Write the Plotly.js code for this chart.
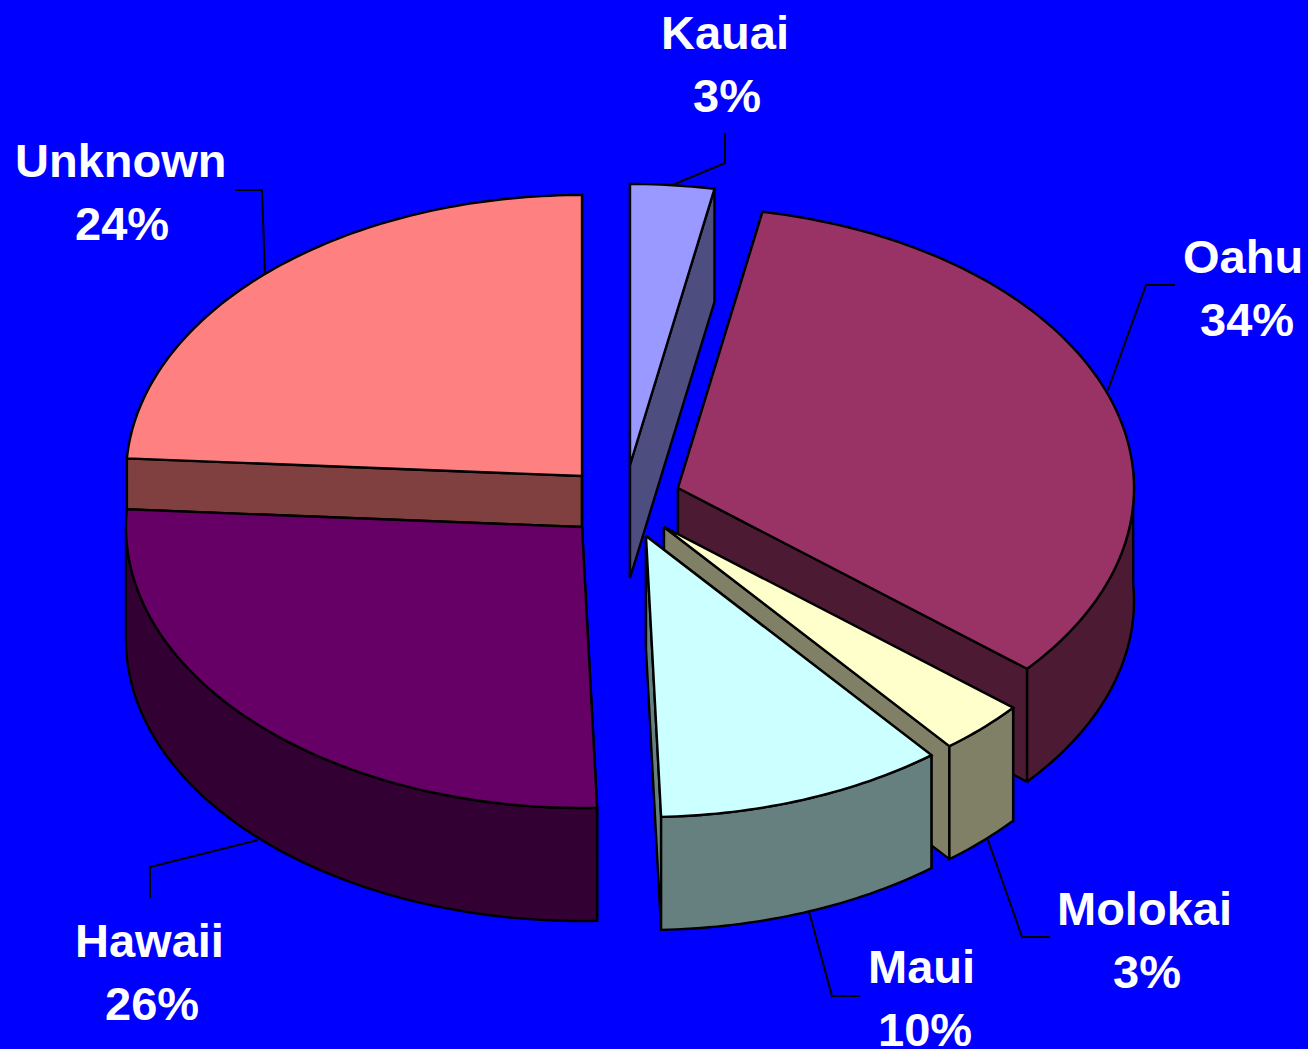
<!DOCTYPE html>
<html>
<head>
<meta charset="utf-8">
<script src="https://cdn.plot.ly/plotly-3.0.1.min.js"></script>
<style>html,body{margin:0;padding:0;background:#0000ff;overflow:hidden}#c{width:1308px;height:1049px}</style>
</head>
<body>
<div id="c"></div>
<script>
// ---- data ----
const categories = ["Kauai", "Oahu", "Molokai", "Maui", "Hawaii", "Unknown"];
const percents   = [3, 34, 3, 10, 26, 24];
// ---- styles ----
const topColors  = ["#9999ff", "#993366", "#ffffcc", "#ccffff", "#660066", "#ff8080"];
const wallColors = ["#4d4d80", "#4d1a33", "#808066", "#668080", "#330033", "#804040"];
// ---- pie geometry (explosion of each slice, projection radii, thickness) ----
const apexX = [630, 678, 664, 646, 582, 582];
const apexY = [465, 488, 527, 536, 527, 476];
const radiusX = 456, radiusY = 281, thickness = 113;
const drawOrder = [0, 5, 1, 4, 2, 3];
// ---- label placement ----
const nameX = [725, 1242.5, 1144.5, 921, 149.5, 120.5];
const nameY = [32, 256, 908, 966, 940, 160];
const pctX  = [727, 1247, 1147, 925, 152, 122];
const pctY  = [95, 319, 971, 1029, 1003, 223];
const leaderX = [[670,725,725],[1108,1146,1175],[988,1022,1050],[808,832,860],[258,150,150],[265,262,235]];
const leaderY = [[186,163,133],[390,285,285],[840,937,937],[908,996,996],[840,867,898],[276,190,190]];

const rad = Math.PI / 180;
function warp(deg) { // slight perspective of the pie plane
  const c = Math.cos(deg * rad), s = Math.sin(deg * rad);
  return deg - 1.9 * Math.max(0, -c) - (s > 0 ? 3.5 * s * s : 0);
}
function project(i, deg, drop) {
  const a = warp(deg) * rad;
  return [apexX[i] + radiusX * Math.sin(a), apexY[i] - radiusY * Math.cos(a) + (drop || 0)];
}
function poly(pts, color, name, val) {
  return { type: "scatter", mode: "lines", x: pts.map(p => p[0]), y: pts.map(p => p[1]),
    fill: "toself", fillcolor: color, line: { color: "#000", width: 2.4, simplify: false },
    name: name, text: name + " " + val + "%", hoverinfo: "text", showlegend: false };
}
function arcPts(i, a0, a1, drop) {
  const steps = Math.max(8, Math.round(a1 - a0)), out = [];
  for (let k = 0; k <= steps; k++) out.push(project(i, a0 + (a1 - a0) * k / steps, drop));
  return out;
}
let cum = 0;
const spans = percents.map(v => { const s = cum * 3.6; cum += v; return [s, cum * 3.6]; });
const traces = [];
drawOrder.forEach(i => {
  const [a0, a1] = spans[i], n = categories[i], v = percents[i];
  const apex = [apexX[i], apexY[i]];
  const apexLow = [apexX[i], apexY[i] + thickness];
  // radial walls
  [a0, a1].forEach(a => traces.push(poly(
    [apex, project(i, a, 0), project(i, a, thickness), apexLow, apex], wallColors[i], n, v)));
  // outer wall: only the part of the rim that faces the viewer
  const f0 = Math.max(a0, 90), f1 = Math.min(a1, 270);
  if (f1 > f0) {
    const up = arcPts(i, f0, f1, 0), low = arcPts(i, f0, f1, thickness);
    traces.push(poly(up.concat(low.reverse(), [up[0]]), wallColors[i], n, v));
  }
  // top face
  traces.push(poly([apex].concat(arcPts(i, a0, a1, 0), [apex]), topColors[i], n, v));
});
const font = { family: "Liberation Sans, Arial, sans-serif", size: 47, color: "#fff", weight: 700 };
const textNote = (x, y, text) => ({ x, y, xref: "x", yref: "y", xanchor: "center", yanchor: "middle",
  align: "center", showarrow: false, text, font });
const annotations = categories.map((c, i) => textNote(nameX[i], nameY[i], c))
  .concat(percents.map((p, i) => textNote(pctX[i], pctY[i], p + "%")));
const shapes = categories.map((c, i) => ({
  type: "path", xref: "x", yref: "y", layer: "below",
  path: leaderX[i].map((x, k) => (k ? "L" : "M") + x + "," + leaderY[i][k]).join(" "),
  line: { color: "#000", width: 2 }
}));
Plotly.newPlot("c", traces, {
  width: 1308, height: 1049, margin: { l: 0, r: 0, t: 0, b: 0 },
  paper_bgcolor: "#0000ff", plot_bgcolor: "#0000ff", showlegend: false,
  xaxis: { range: [0, 1308], visible: false, fixedrange: true },
  yaxis: { range: [1049, 0], visible: false, fixedrange: true },
  annotations, shapes
}, { displayModeBar: false, staticPlot: true });
</script>
</body>
</html>
